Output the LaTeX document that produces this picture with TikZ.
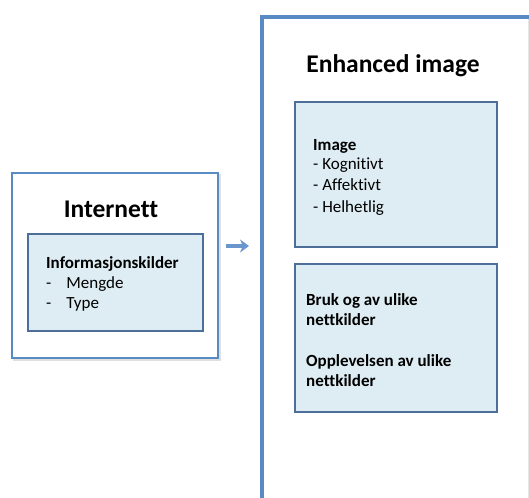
\documentclass[tikz,border=0pt]{standalone}
\usepackage{fontspec}
\setmainfont[Ligatures=NoCommon]{Carlito}
\usetikzlibrary{arrows.meta}
\definecolor{frameblue}{RGB}{88,138,196}
\definecolor{boxedge}{RGB}{76,110,152}
\definecolor{boxfill}{RGB}{222,237,243}
\definecolor{arrowblue}{RGB}{104,150,205}
\tikzset{
  outerframe/.style={draw=frameblue, line width=2.5pt, fill=white},
  innerbox/.style={draw=boxedge, line width=1.8pt, fill=boxfill},
  title/.style={font=\bfseries\fontsize{25.5}{30}\selectfont, anchor=base},
  bodybold/.style={font=\bfseries\fontsize{17}{20}\selectfont, anchor=base west, inner sep=0pt},
  body/.style={font=\fontsize{17}{20}\selectfont, anchor=base west, inner sep=0pt},
  shade/.style={draw=black!12, line width=1.5pt}
}
\begin{document}
\begin{tikzpicture}[x=1pt, y=-1pt]
\useasboundingbox (0,0) rectangle (529,497);
\fill[white] (0,0) rectangle (529,497);

% left frame: Internett
\draw[shade] (14,175) rectangle (220,360);
\draw[outerframe] (12,173) rectangle (218,358);
\node[title] (internett) at (111,217) {Internett};
\draw[innerbox] (28,234) rectangle (203,331);
\node[bodybold] (infokilder) at (46,268) {Informasjonskilder};
\node[body] (mengde) at (46,288) {-\hspace{15pt}Mengde};
\node[body] (type) at (46,308) {-\hspace{15pt}Type};

% arrow between the two frames
\coordinate (arrowstart) at (226,246);
\coordinate (arrowend) at (249,246);
\draw[arrowblue, line width=4pt, -{Stealth[length=9pt, width=13pt, inset=3pt]}] (arrowstart) -- (arrowend);

% right frame: Enhanced image (runs off the page)
\draw[shade] (265,20) -- (540,20);
\draw[shade] (265,20) -- (265,510);
\draw[outerframe, line width=3.2pt] (540,17) -- (262,17) -- (262,510);
\draw[line width=1pt, draw=black!10] (528,19) -- (528,510);
\node[title] (enhanced) at (393,73) {Enhanced image};

\draw[innerbox] (295,102) rectangle (497,247);
\node[bodybold] (image) at (313,150) {Image};
\node[body] (kognitivt) at (313,169) {- Kognitivt};
\node[body] (affektivt) at (313,190) {- Affektivt};
\node[body] (helhetlig) at (313,212) {- Helhetlig};

\draw[innerbox] (295,264) rectangle (497,412);
\node[bodybold] (bruk) at (306,305) {Bruk og av ulike};
\node[bodybold] (nett1) at (306,325) {nettkilder};
\node[bodybold] (opplevelsen) at (306,366) {Opplevelsen av ulike};
\node[bodybold] (nett2) at (306,386) {nettkilder};
\end{tikzpicture}
\end{document}
